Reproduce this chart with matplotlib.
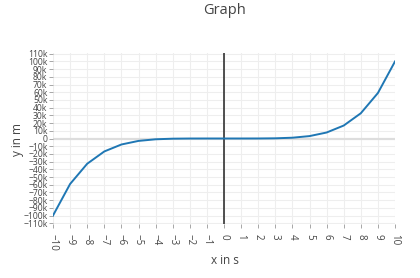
import matplotlib
matplotlib.use("Agg")
import matplotlib.pyplot as plt
from matplotlib.ticker import FixedLocator, FuncFormatter

x_values = [-10, -9, -8, -7, -6, -5, -4, -3, -2, -1, 0, 1, 2, 3, 4, 5, 6, 7, 8, 9, 10]
y_values = [-100000, -59049, -32768, -16807, -7776, -3125, -1024, -243, -32, -1, 0,
            1, 32, 243, 1024, 3125, 7776, 16807, 32768, 59049, 100000]
y_ticks = list(range(-110000, 110001, 10000))
x_ticks = list(range(-10, 11))
title = "Graph"
x_label = "x in s"
y_label = "y in m"

plt.rcParams['font.family'] = ['Open Sans', 'DejaVu Sans']
text_color = '#444444'

fig = plt.figure(figsize=(4.2, 2.78), dpi=100)
ax = fig.add_axes([53/420, 1-224/278, (395-53)/420, (224-53)/278])

ax.set_xlim(-10, 10)
ax.set_ylim(-111000, 111000)

for yt in y_ticks:
    if yt != 0:
        ax.axhline(yt, color='#eeeeee', lw=0.8, zorder=0)
for xt in x_ticks:
    ax.axvline(xt, color='#eeeeee', lw=0.8, zorder=0)
ax.axhline(0, color='#dddddd', lw=1.6, zorder=1)
ax.axvline(0, color='#222222', lw=1.1, zorder=2)

ax.plot(x_values, y_values, color='#1f77b4', lw=1.4, zorder=3)

for s in ax.spines.values():
    s.set_visible(False)

def kfmt(v, pos):
    if v == 0:
        return "0"
    s = f"{abs(int(round(v/1000)))}k"
    return ("\u2212" + s) if v < 0 else s

def xfmt(v, pos):
    v = int(round(v))
    return ("\u2212" + str(abs(v))) if v < 0 else str(v)

ax.yaxis.set_major_locator(FixedLocator(y_ticks))
ax.yaxis.set_major_formatter(FuncFormatter(kfmt))
ax.xaxis.set_major_locator(FixedLocator(x_ticks))
ax.xaxis.set_major_formatter(FuncFormatter(xfmt))

ax.tick_params(axis='y', length=3, width=0.6, color='#999999', labelsize=6.2,
               labelcolor=text_color, pad=1)
ax.tick_params(axis='x', length=3, width=0.6, color='#999999', labelsize=7,
               labelcolor=text_color, pad=4, labelrotation=-90)
for lab in ax.get_xticklabels():
    lab.set_va('top')
    lab.set_ha('center')

fig.text(225/420, 1-10/278, title, ha='center', va='center', fontsize=10.5, color=text_color)
fig.text(225/420, 1-260/278, x_label, ha='center', va='center', fontsize=8.5, color=text_color)
fig.text(17/420, 1-140/278, y_label, ha='center', va='center', rotation=90, fontsize=8.5, color=text_color)

fig.savefig("out.png", dpi=100)
